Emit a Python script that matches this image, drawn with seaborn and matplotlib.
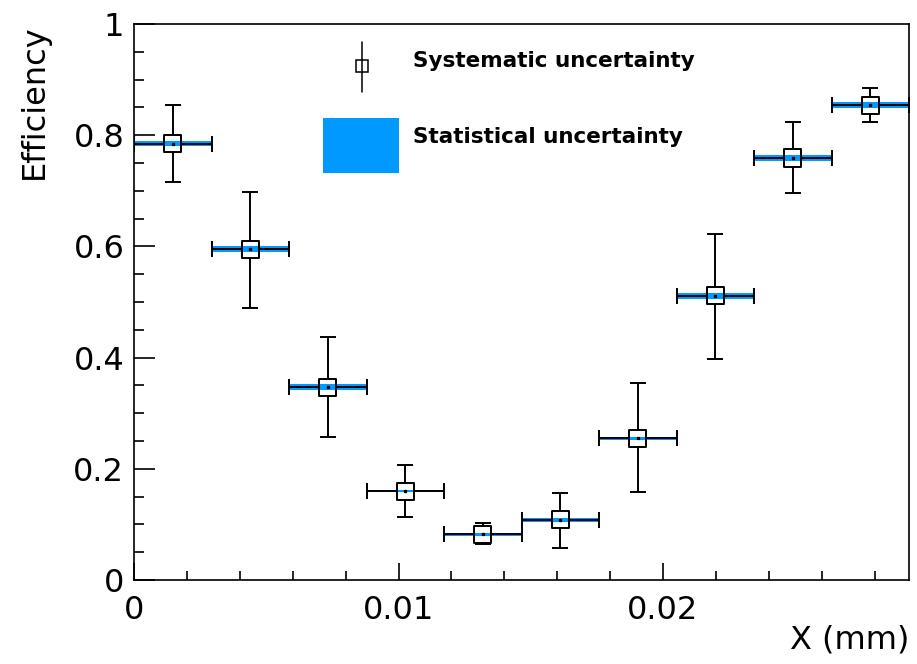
import numpy as np
import pandas as pd
import matplotlib
matplotlib.use("Agg")
import matplotlib.pyplot as plt
import seaborn as sns
from matplotlib.ticker import MultipleLocator, FixedLocator, FixedFormatter
from matplotlib.patches import Rectangle

# ---------------- data ----------------
bin_edges = [0.0, 0.00293, 0.00586, 0.00879, 0.01172, 0.01465,
             0.01758, 0.02051, 0.02344, 0.02637, 0.0293]
efficiency = [0.785, 0.595, 0.347, 0.160, 0.082, 0.108, 0.255, 0.511, 0.759, 0.854]
syst_high = [0.855, 0.697, 0.437, 0.207, 0.102, 0.157, 0.354, 0.623, 0.824, 0.884]
syst_low = [0.716, 0.489, 0.257, 0.113, 0.065, 0.057, 0.158, 0.397, 0.696, 0.824]
stat_err = [0.0045, 0.005, 0.005, 0.002, 0.002, 0.003, 0.0027, 0.005, 0.005, 0.005]

x_ticks = [0.0, 0.01, 0.02]
x_tick_labels = ["0", "0.01", "0.02"]
y_ticks = [0.0, 0.2, 0.4, 0.6, 0.8, 1.0]
y_tick_labels = ["0", "0.2", "0.4", "0.6", "0.8", "1"]
legend_labels = ["Systematic uncertainty", "Statistical uncertainty"]

edges = np.array(bin_edges)
lo_e = edges[:-1]
hi_e = edges[1:]
centers = 0.5 * (lo_e + hi_e)
widths = hi_e - lo_e
eff = np.array(efficiency)
shi = np.array(syst_high)
slo = np.array(syst_low)
stat = np.array(stat_err)
df = pd.DataFrame({"x": centers, "eff": eff})

# ---------------- figure ----------------
sns.set_theme(style="white")
plt.rcParams["font.family"] = ["DejaVu Sans"]
plt.rcParams["text.color"] = "black"
plt.rcParams["axes.labelcolor"] = "black"

W, H, DPI = 917, 664, 100
fig = plt.figure(figsize=(W / DPI, H / DPI), dpi=DPI)
ax_l, ax_b, ax_w, ax_h = 134 / W, 84 / H, 775 / W, 556 / H
ax = fig.add_axes([ax_l, ax_b, ax_w, ax_h])
xmin, xmax = edges[0], edges[-1]
ax.set_xlim(xmin, xmax)
ax.set_ylim(0, 1)

blue = "#0099FF"
lw = 1.4

# marker half size (pixels -> data)
half_px = 8.5
hx = half_px * (xmax - xmin) / (ax_w * W)
hy = half_px * 1.0 / (ax_h * H)

# statistical uncertainty boxes
ax.bar(centers, 2 * stat, bottom=eff - stat, width=widths, color=blue,
       edgecolor="none", zorder=2)

# horizontal (bin width) bars, broken inside the marker
ax.hlines(eff, lo_e, centers - hx, color="black", lw=lw, zorder=3)
ax.hlines(eff, centers + hx, hi_e, color="black", lw=lw, zorder=3)
ax.plot(lo_e, eff, ls="none", marker="|", ms=11.5, mew=lw, color="black", zorder=3)
ax.plot(hi_e, eff, ls="none", marker="|", ms=11.5, mew=lw, color="black", zorder=3)

# systematic vertical bars
ax.vlines(centers, eff + hy, shi, color="black", lw=lw, zorder=3)
ax.vlines(centers, slo, np.minimum(eff - hy, eff), color="black", lw=lw, zorder=3)
ax.plot(centers, shi, ls="none", marker="_", ms=11.5, mew=lw, color="black", zorder=3)
ax.plot(centers, slo, ls="none", marker="_", ms=11.5, mew=lw, color="black", zorder=3)

# open square markers
sns.scatterplot(data=df, x="x", y="eff", marker="s", s=150, facecolor="none",
                edgecolor="black", linewidth=1.4, ax=ax, zorder=5, legend=False)
ax.plot(centers, eff, ls="none", marker="s", ms=1.4, color="black", zorder=6)

# ---------------- axes styling ----------------
for sp in ax.spines.values():
    sp.set_visible(True)
    sp.set_color("black")
    sp.set_linewidth(1.2)

ax.xaxis.set_major_locator(FixedLocator(x_ticks))
ax.xaxis.set_major_formatter(FixedFormatter(x_tick_labels))
ax.xaxis.set_minor_locator(MultipleLocator(0.002))
ax.yaxis.set_major_locator(FixedLocator(y_ticks))
ax.yaxis.set_major_formatter(FixedFormatter(y_tick_labels))
ax.yaxis.set_minor_locator(MultipleLocator(0.05))

ax.tick_params(which="both", direction="in", top=False, right=False,
               bottom=True, left=True, colors="black", width=1.2, labelsize=23,
               labelcolor="black")
ax.tick_params(axis="y", which="major", length=15, pad=7)
ax.tick_params(axis="y", which="minor", length=7.5)
ax.tick_params(axis="x", which="major", length=12, pad=11)
ax.tick_params(axis="x", which="minor", length=6.5)

ax.set_xlabel("X (mm)", fontsize=23, loc="right", color="black")
ax.xaxis.set_label_coords(1.0, -0.08)
ax.set_ylabel("Efficiency", fontsize=23, loc="top", color="black")
ax.yaxis.set_label_coords(-0.1085, 1.0)

# ---------------- legend (manual) ----------------
def ax_x(px):
    return (px - 134) / 775.0

def ax_y(py):
    return (580 - py) / 556.0

ax.plot([ax_x(362)], [ax_y(66)], transform=ax.transAxes, marker="s", ms=8.8,
        mfc="none", mec="black", mew=1.1, ls="none", clip_on=False, zorder=7)
ax.plot([ax_x(362), ax_x(362)], [ax_y(42), ax_y(92)], transform=ax.transAxes,
        color="black", lw=1.1, clip_on=False, zorder=7)
ax.add_patch(Rectangle((ax_x(323), ax_y(173)), ax_x(399) - ax_x(323),
                       ax_y(118) - ax_y(173), transform=ax.transAxes,
                       facecolor=blue, edgecolor="none", zorder=7))
ax.text(ax_x(413), ax_y(67), legend_labels[0], transform=ax.transAxes,
        fontsize=15.5, fontweight="bold", ha="left", va="baseline", color="black")
ax.text(ax_x(413), ax_y(143), legend_labels[1], transform=ax.transAxes,
        fontsize=15.5, fontweight="bold", ha="left", va="baseline", color="black")

fig.savefig("out.png", dpi=DPI, facecolor="white")
